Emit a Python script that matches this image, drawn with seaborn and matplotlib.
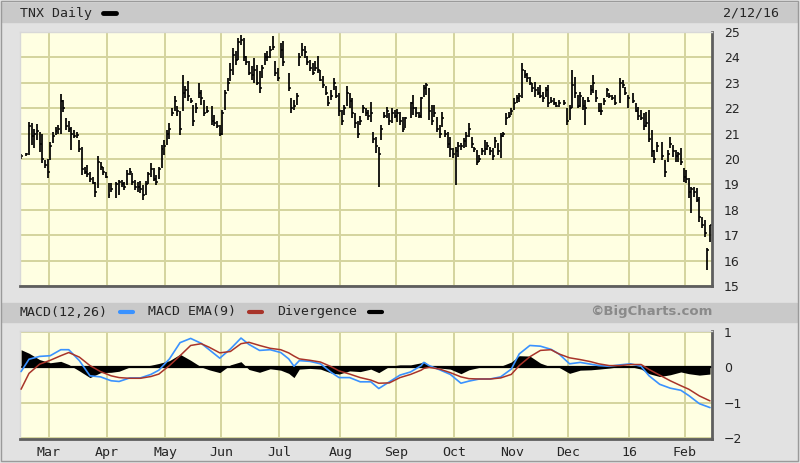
import numpy as np
import pandas as pd
import matplotlib
matplotlib.use("Agg")
import matplotlib.pyplot as plt
import seaborn as sns
from matplotlib.lines import Line2D
from matplotlib.patches import Rectangle

# ---------------- data ----------------
start_date = "2015-02-13"
end_date = "2016-02-12"
holidays = ["2015-02-16", "2015-04-03", "2015-05-25", "2015-07-03", "2015-09-07",
            "2015-11-26", "2015-12-25", "2016-01-01", "2016-01-18"]

high = [20.2, 20.25, 21.45, 21.4, 21.2, 21.36, 21.08, 21.0, 19.96, 20.0,
        20.68, 21.08, 21.27, 21.34, 22.55, 22.32, 21.6, 21.5, 21.27, 21.14,
        21.08, 20.75, 20.49, 19.7, 19.76, 19.5, 19.3, 19.1, 20.1, 19.9,
        19.7, 19.5, 19.04, 19.04, 19.1, 19.17, 19.17, 19.1, 19.57, 19.63,
        19.43, 19.17, 19.1, 19.12, 18.99, 19.12, 19.5, 19.84, 19.65, 19.38,
        19.7, 20.56, 20.76, 21.15, 21.4, 22.0, 22.47, 22.07, 21.88, 23.3,
        22.86, 23.06, 22.4, 22.14, 22.2, 23.0, 22.73, 22.34, 22.07, 22.07,
        21.74, 21.48, 21.35, 21.94, 22.73, 23.19, 23.78, 24.37, 24.24, 24.76,
        24.87, 24.76, 24.04, 23.84, 23.65, 23.97, 23.71, 23.45, 23.71, 24.17,
        24.24, 24.43, 24.83, 23.84, 23.58, 24.57, 24.63, 23.39, 22.4, 22.34,
        22.6, 24.17, 24.57, 24.43, 24.04, 23.9, 23.78, 23.84, 24.04, 23.52,
        23.26, 22.86, 22.47, 22.73, 23.19, 22.86, 22.6, 21.94, 22.14, 22.86,
        22.6, 22.4, 21.81, 21.48, 21.68, 22.14, 22.01, 21.94, 22.26, 21.08,
        20.88, 20.48, 21.34, 21.86, 22.06, 21.8, 21.99, 21.93, 21.96, 21.86,
        21.67, 21.67, 22.26, 22.52, 22.06, 21.86, 22.45, 22.91, 23.0, 22.78,
        22.13, 22.13, 21.67, 21.34, 21.86, 21.14, 21.08, 20.88, 20.42, 20.49,
        20.68, 20.62, 20.81, 21.08, 21.4, 20.88, 20.48, 20.35, 20.16, 20.42,
        20.75, 20.68, 20.48, 20.42, 20.88, 20.62, 21.01, 21.07, 21.8, 21.86,
        21.99, 22.39, 22.52, 22.58, 23.77, 23.5, 23.37, 23.24, 22.98, 23.04,
        22.85, 22.91, 22.65, 22.85, 22.91, 22.45, 22.39, 22.26, 22.32, 22.32,
        21.99, 22.13, 23.5, 23.24, 22.52, 22.65, 22.45, 22.32, 22.45, 22.91,
        23.3, 22.7, 22.19, 22.19, 22.39, 22.78, 22.58, 22.52, 22.52, 23.18,
        23.11, 22.85, 22.52, 22.58, 22.19, 22.06, 21.93, 21.8, 21.86, 21.93,
        21.14, 20.35, 20.68, 20.68, 19.96, 20.35, 20.88, 20.55, 20.35, 20.29,
        20.42, 19.63, 19.57, 19.24, 18.91, 18.91, 18.84, 18.52, 17.73, 17.6,
        16.48, 17.4]

low = [20.0, 20.1, 20.15, 20.55, 20.42, 20.75, 20.29, 19.83, 19.63, 19.26,
       19.96, 20.62, 20.95, 21.0, 21.0, 21.86, 21.14, 21.07, 20.35, 20.81,
       20.81, 20.29, 19.37, 19.4, 19.3, 19.1, 19.0, 18.5, 18.84, 19.57,
       19.37, 19.24, 18.45, 18.71, 18.45, 18.58, 18.9, 18.78, 18.97, 19.37,
       18.97, 18.78, 18.71, 18.66, 18.4, 18.6, 19.0, 19.3, 19.12, 18.99,
       19.2, 19.65, 20.17, 20.56, 20.8, 21.68, 21.88, 21.68, 20.96, 21.88,
       22.4, 22.3, 22.2, 21.29, 21.81, 22.4, 22.14, 21.68, 21.81, 21.35,
       21.29, 21.22, 20.9, 20.96, 21.94, 22.66, 23.06, 23.3, 23.7, 23.9,
       24.5, 23.84, 23.7, 23.3, 23.12, 22.99, 22.93, 22.6, 23.19, 23.71,
       23.84, 23.97, 24.3, 23.25, 23.06, 23.97, 23.65, 22.66, 21.81, 21.94,
       22.14, 23.65, 24.04, 23.97, 23.71, 23.45, 23.32, 23.45, 23.39, 23.06,
       22.8, 22.53, 22.07, 22.34, 22.73, 22.4, 21.68, 21.35, 21.74, 22.07,
       22.01, 21.6, 21.22, 20.83, 21.35, 21.81, 21.68, 21.55, 21.47, 20.62,
       20.22, 18.91, 20.75, 21.6, 21.6, 21.34, 21.4, 21.6, 21.47, 21.34,
       21.08, 21.21, 21.6, 21.73, 21.67, 21.6, 21.6, 22.45, 22.52, 21.53,
       21.34, 21.67, 21.08, 20.81, 21.27, 20.88, 20.42, 20.09, 20.03, 18.98,
       20.09, 20.35, 20.42, 20.48, 20.88, 20.42, 20.29, 19.76, 19.9, 20.16,
       20.16, 20.35, 20.16, 19.96, 20.42, 20.16, 20.03, 20.88, 21.34, 21.6,
       21.73, 21.93, 22.19, 22.26, 22.39, 23.18, 23.04, 22.91, 22.65, 22.45,
       22.52, 22.39, 22.26, 22.45, 22.06, 22.19, 22.13, 22.06, 22.06, 22.13,
       21.34, 21.53, 21.99, 22.39, 21.99, 22.06, 21.93, 21.34, 22.26, 22.52,
       22.58, 22.26, 21.86, 21.73, 22.13, 22.45, 22.39, 22.32, 22.13, 22.19,
       22.78, 22.52, 21.99, 22.19, 21.86, 21.53, 21.53, 21.14, 21.27, 20.68,
       20.09, 19.83, 20.29, 19.96, 19.3, 19.9, 20.42, 20.09, 19.9, 19.9,
       19.76, 19.1, 19.04, 18.45, 17.86, 18.52, 18.32, 17.53, 17.27, 16.94,
       15.63, 16.74]

close = [20.1, 20.2, 21.3, 20.9, 21.0, 21.1, 20.6, 20.0, 19.75, 19.5,
         20.5, 20.9, 21.1, 21.2, 22.3, 22.0, 21.3, 21.2, 21.0, 20.9,
         20.95, 20.4, 19.6, 19.5, 19.4, 19.2, 19.05, 18.7, 19.9, 19.7,
         19.5, 19.3, 18.6, 18.8, 19.0, 19.1, 19.0, 18.9, 19.4, 19.5,
         19.1, 18.9, 18.9, 18.8, 18.6, 19.0, 19.4, 19.6, 19.2, 19.1,
         19.6, 20.4, 20.5, 21.0, 21.2, 21.8, 22.3, 21.9, 21.2, 22.6,
         22.7, 22.5, 22.3, 21.5, 22.0, 22.6, 22.4, 21.8, 21.9, 21.5,
         21.4, 21.3, 21.0, 21.8, 22.6, 23.0, 23.5, 24.1, 23.9, 24.6,
         24.7, 24.0, 23.8, 23.4, 23.3, 23.5, 23.0, 22.8, 23.6, 24.0,
         24.0, 24.3, 24.4, 23.4, 23.2, 24.3, 23.8, 22.8, 22.0, 22.1,
         22.5, 24.0, 24.3, 24.2, 23.8, 23.6, 23.4, 23.6, 23.5, 23.1,
         22.9, 22.6, 22.2, 22.5, 23.0, 22.5, 21.9, 21.5, 22.0, 22.6,
         22.3, 21.8, 21.4, 21.0, 21.5, 22.0, 21.8, 21.7, 21.8, 20.8,
         20.5, 20.2, 21.2, 21.7, 21.9, 21.5, 21.8, 21.7, 21.8, 21.5,
         21.2, 21.6, 22.2, 22.0, 21.8, 21.7, 22.4, 22.8, 22.9, 21.9,
         21.5, 21.8, 21.2, 21.0, 21.6, 21.0, 20.6, 20.4, 20.2, 20.3,
         20.5, 20.5, 20.7, 20.9, 21.2, 20.6, 20.4, 19.9, 20.0, 20.3,
         20.4, 20.5, 20.3, 20.1, 20.7, 20.3, 20.9, 21.0, 21.6, 21.7,
         21.9, 22.2, 22.4, 22.5, 23.5, 23.3, 23.2, 23.0, 22.8, 22.7,
         22.6, 22.5, 22.4, 22.7, 22.2, 22.3, 22.2, 22.1, 22.2, 22.2,
         21.5, 22.0, 22.9, 22.6, 22.1, 22.5, 22.1, 22.0, 22.3, 22.7,
         23.0, 22.4, 21.9, 21.9, 22.3, 22.7, 22.5, 22.4, 22.2, 23.0,
         22.9, 22.6, 22.4, 22.3, 21.9, 21.7, 21.6, 21.3, 21.4, 20.8,
         20.3, 20.0, 20.5, 20.1, 19.5, 20.2, 20.6, 20.3, 20.1, 20.2,
         19.9, 19.3, 19.2, 18.7, 18.8, 18.7, 18.4, 17.7, 17.4, 17.1,
         16.4, 17.4]

# MACD panel, sampled along the weekday axis (weekday number since 2/13/15)
macd_day = [0, 3, 7, 11, 15, 18, 22, 26, 30, 34, 37, 41, 45, 49, 52, 56, 60, 64,
            68, 71, 75, 79, 83, 86, 90, 94, 98, 101, 103, 105, 109, 113, 117, 120,
            124, 128, 132, 135, 139, 143, 147, 151, 152, 154, 158, 162, 166, 169,
            173, 177, 181, 185, 188, 192, 196, 200, 203, 207, 211, 215, 218, 222,
            226, 230, 234, 237, 241, 245, 249, 252, 256, 260]
macd = [-0.12, 0.23, 0.31, 0.33, 0.5, 0.5, 0.19, -0.24, -0.27, -0.38, -0.4, -0.3,
        -0.3, -0.2, -0.08, 0.24, 0.7, 0.82, 0.68, 0.5, 0.26, 0.52, 0.83, 0.65,
        0.48, 0.5, 0.42, 0.24, 0.03, 0.19, 0.17, 0.1, -0.14, -0.29, -0.29, -0.41,
        -0.41, -0.6, -0.41, -0.22, -0.13, 0.05, 0.14, 0.05, -0.07, -0.2, -0.45,
        -0.39, -0.33, -0.33, -0.27, -0.05, 0.38, 0.62, 0.6, 0.51, 0.38, 0.1,
        0.14, 0.09, 0.05, 0.03, 0.07, 0.1, 0.03, -0.24, -0.48, -0.59, -0.65,
        -0.8, -1.03, -1.14]
signal = [-0.62, -0.17, 0.09, 0.2, 0.33, 0.42, 0.29, 0.05, -0.12, -0.24, -0.29,
          -0.31, -0.31, -0.26, -0.19, 0.05, 0.33, 0.62, 0.67, 0.57, 0.41, 0.45,
          0.67, 0.71, 0.62, 0.54, 0.5, 0.41, 0.32, 0.24, 0.2, 0.15, 0.02, -0.1,
          -0.19, -0.29, -0.36, -0.45, -0.44, -0.29, -0.2, -0.08, -0.03, 0.0,
          -0.05, -0.15, -0.27, -0.32, -0.33, -0.33, -0.3, -0.2, 0.05, 0.3, 0.48,
          0.5, 0.38, 0.27, 0.22, 0.16, 0.1, 0.05, 0.05, 0.08, 0.08, -0.06, -0.22,
          -0.38, -0.52, -0.62, -0.81, -0.95]

month_labels = ["Mar", "Apr", "May", "Jun", "Jul", "Aug", "Sep", "Oct", "Nov", "Dec", "16", "Feb"]
price_ticks = [15, 16, 17, 18, 19, 20, 21, 22, 23, 24, 25]
macd_ticks = [-2, -1, 0, 1]

# ---------------- style ----------------
sns.set_style("white")
plt.rcParams["font.family"] = ["DejaVu Sans"]

W, H = 800, 463
BG = "#e2e2e2"
BAND = "#c9c9c9"
PLOT_BG = "#ffffe2"
GRID = "#d4d49e"
BLUE = "#3a92ff"
RED = "#a8342a"
MONO = "DejaVu Sans Mono"

days = pd.bdate_range(start_date, end_date)
trade_days = days[~days.isin(pd.to_datetime(holidays))]
pos = days.get_indexer(trade_days)
firsts = days.to_series().groupby(days.to_period("M")).first().values[1:]
month_pos = days.get_indexer(pd.DatetimeIndex(firsts)) - 0.5

fig = plt.figure(figsize=(W / 100, H / 100), dpi=100, facecolor=BG)


def fx(x):
    return x / W


def fy(y):
    return 1 - y / H


# header bands
for y0, y1 in [(3, 22), (303, 322)]:
    fig.add_artist(Rectangle((fx(2), fy(y1)), fx(795), (y1 - y0) / H,
                             transform=fig.transFigure, color=BAND, zorder=0))
# outer frame
fig.add_artist(Rectangle((fx(1), fy(461)), fx(797), 460 / H, transform=fig.transFigure,
                         fill=False, edgecolor="#9a9a9a", lw=1.0, zorder=0))

# ---------------- price panel ----------------
ax = fig.add_axes([fx(20), fy(286), fx(692), 254 / H])
ax.set_facecolor(PLOT_BG)
ax.set_xlim(-0.4, 260.75)
ax.set_ylim(15, 25)
ax.set_yticks(price_ticks)
ax.set_xticks(month_pos)
ax.set_xticklabels([])
ax.grid(True, color=GRID, lw=1.4)
ax.set_axisbelow(True)
ax.yaxis.tick_right()
ax.tick_params(axis="y", length=0, pad=8.5, labelsize=9)
ax.tick_params(axis="x", length=0)

ax.vlines(pos, low, high, color="black", lw=1.25)
ax.hlines(close, pos, pos + 0.75, color="black", lw=1.1)

# ---------------- MACD panel ----------------
ax2 = fig.add_axes([fx(20), fy(439), fx(692), 108 / H])
ax2.set_facecolor(PLOT_BG)
ax2.set_xlim(-0.4, 260.75)
ax2.set_ylim(-2.03, 1.03)
ax2.set_yticks(macd_ticks)
ax2.set_xticks(month_pos)
ax2.set_xticklabels(month_labels, family=MONO, fontsize=9.5)
ax2.grid(True, color=GRID, lw=1.4)
ax2.set_axisbelow(True)
ax2.yaxis.tick_right()
ax2.tick_params(axis="y", length=0, pad=8.5, labelsize=9)
ax2.tick_params(axis="x", length=0, pad=5)

md = np.array(macd_day)
div = np.array(macd) - np.array(signal)
ax2.fill_between(md, 0, div, color="black", lw=0, zorder=2)
ax2.axhline(0, color="black", lw=1.6, zorder=2)
panel = pd.DataFrame({"day": md, "macd": macd, "signal": signal})
sns.lineplot(data=panel, x="day", y="macd", color=BLUE, lw=1.2, ax=ax2, zorder=3)
sns.lineplot(data=panel, x="day", y="signal", color=RED, lw=1.1, ax=ax2, zorder=3)
ax2.set_xlabel("")
ax2.set_ylabel("")

for a in (ax, ax2):
    a.spines["left"].set_color("#d8d8d8")
    a.spines["top"].set_color("#d8d8d8")
    a.spines["left"].set_linewidth(1)
    a.spines["top"].set_linewidth(1)
    a.spines["right"].set_color("#5e5e5e")
    a.spines["bottom"].set_color("#5e5e5e")
    a.spines["right"].set_linewidth(2)
    a.spines["bottom"].set_linewidth(2)

# ---------------- header texts ----------------
fig.text(fx(20), fy(13), "TNX Daily", family=MONO, fontsize=9.5, va="center", ha="left")
fig.add_artist(Line2D([fx(103), fx(116)], [fy(13), fy(13)], transform=fig.transFigure,
                      color="black", lw=3.5, solid_capstyle="round"))
fig.text(fx(723), fy(13), "2/12/16", family=MONO, fontsize=9.5, va="center", ha="left")

fig.text(fx(20), fy(312), "MACD(12,26)", family=MONO, fontsize=9.5, va="center", ha="left")
fig.add_artist(Line2D([fx(120), fx(133)], [fy(312), fy(312)], transform=fig.transFigure,
                      color=BLUE, lw=3, solid_capstyle="round"))
fig.text(fx(148), fy(312), "MACD EMA(9)", family=MONO, fontsize=9.5, va="center", ha="left")
fig.add_artist(Line2D([fx(249), fx(262)], [fy(312), fy(312)], transform=fig.transFigure,
                      color=RED, lw=3, solid_capstyle="round"))
fig.text(fx(277), fy(312), "Divergence", family=MONO, fontsize=9.5, va="center", ha="left")
fig.add_artist(Line2D([fx(369), fx(382)], [fy(312), fy(312)], transform=fig.transFigure,
                      color="black", lw=3, solid_capstyle="round"))
fig.text(fx(713), fy(312), "©BigCharts.com", fontsize=9.5, fontweight="bold",
         color="#8a8a8a", va="center", ha="right")

fig.savefig("out.png", dpi=100, facecolor=BG)
